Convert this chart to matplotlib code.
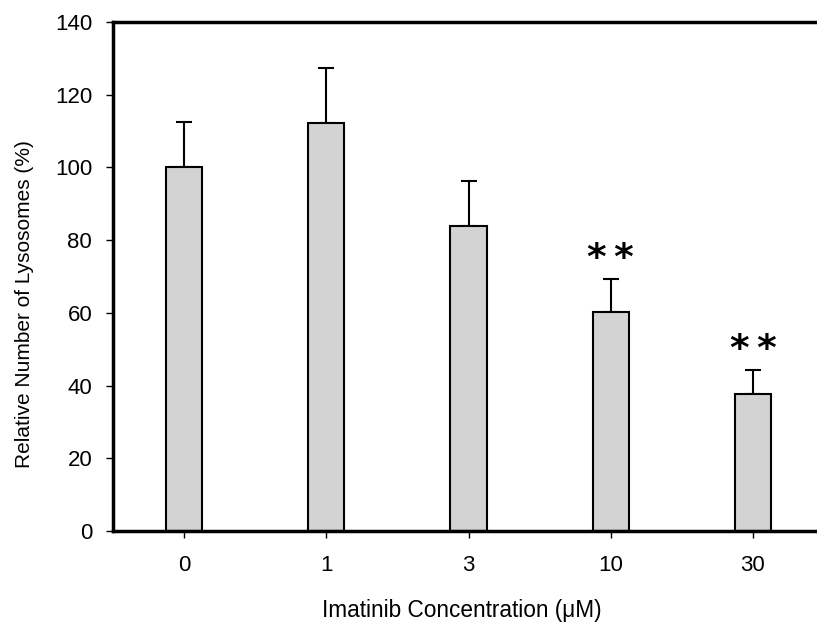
import matplotlib
matplotlib.use("Agg")
import matplotlib.pyplot as plt
import numpy as np

plt.rcParams['font.family'] = ['Liberation Sans', 'DejaVu Sans']

# Lysosome counts relative to untreated control
concentrations = ["0", "1", "3", "10", "30"]
relative_lysosomes = [100.0, 112.2, 83.9, 60.3, 37.8]
sem = [12.4, 15.1, 12.4, 8.9, 6.5]
significance = ["", "", "", "*\u2009*", "*\u2009*"]

y_ticks = [0, 20, 40, 60, 80, 100, 120, 140]

fig = plt.figure(figsize=(8.17, 6.28), dpi=100)
ax = fig.add_axes([113 / 817, 1 - 531 / 628, (824 - 113) / 817, (531 - 22) / 628])

x = np.arange(len(concentrations))
ax.bar(x, relative_lysosomes, width=0.254, color="#d3d3d3",
       edgecolor="black", linewidth=1.5, zorder=2)
ax.errorbar(x, relative_lysosomes, yerr=[np.zeros(len(sem)), sem],
            fmt="none", ecolor="black", elinewidth=1.5, capsize=6,
            capthick=1.5, zorder=1)

for xi, v, e, s in zip(x, relative_lysosomes, sem, significance):
    if s:
        ax.annotate(s, xy=(xi, v + e), xytext=(0, 1.5), textcoords="offset points",
                    ha="center", va="bottom", fontsize=27, fontweight="bold",
                    family="DejaVu Sans")

ax.set_xlim(-0.5, 4.5)
ax.set_ylim(0, 140)
ax.set_xticks(x)
ax.set_xticklabels(concentrations)
ax.set_yticks(y_ticks)
ax.tick_params(axis="both", direction="out", length=5, width=1, labelsize=16)
ax.tick_params(axis="x", pad=12)
ax.tick_params(axis="y", pad=10)

for side in ["top", "left", "bottom", "right"]:
    ax.spines[side].set_linewidth(2.5)

ax.set_xlabel("Imatinib Concentration (\u03bcM)", fontsize=16.3, labelpad=17)
ax.set_ylabel("Relative Number of Lysosomes (%)", fontsize=15, labelpad=15)
ax.xaxis.label.set_x(0.49)
ax.yaxis.label.set_y(0.446)

fig.savefig("out.png", dpi=100)
